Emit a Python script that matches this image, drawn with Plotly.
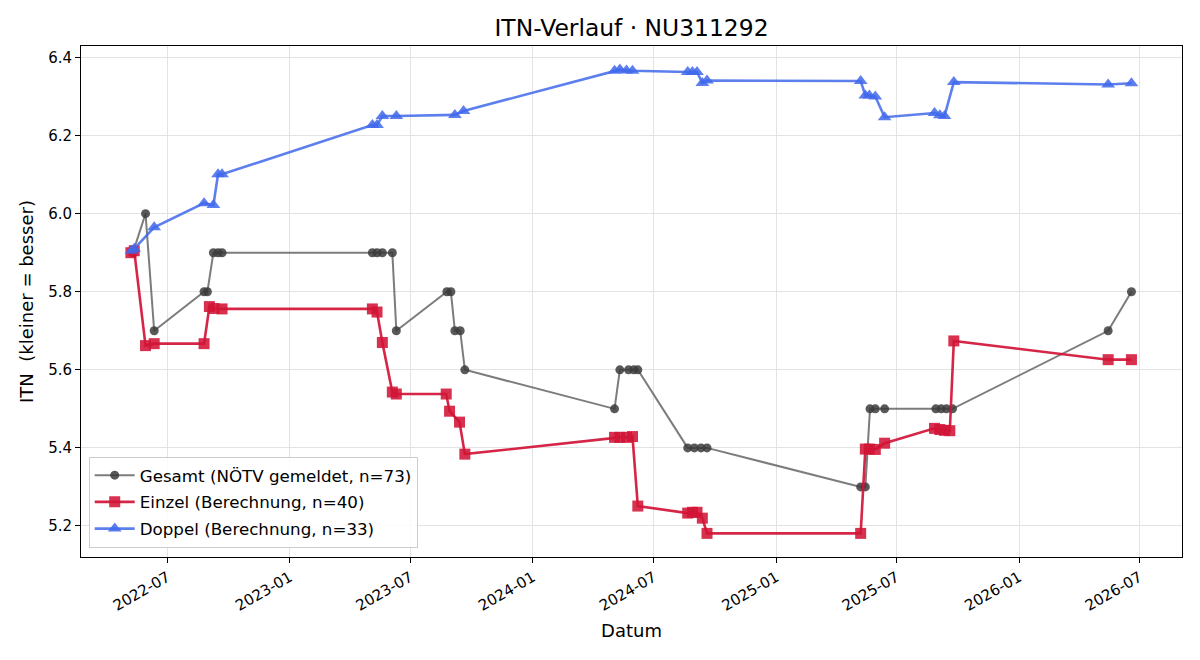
import plotly.graph_objects as go

# ---------------- data ----------------
gesamt_dates = [
    "2022-05-10", "2022-05-29", "2022-06-11", "2022-08-25", "2022-08-30",
    "2022-09-08", "2022-09-15", "2022-09-21", "2023-05-05", "2023-05-12",
    "2023-05-20", "2023-06-04", "2023-06-10", "2023-08-25", "2023-08-31",
    "2023-09-06", "2023-09-14", "2023-09-21", "2024-05-03", "2024-05-11",
    "2024-05-24", "2024-06-01", "2024-06-07", "2024-08-21", "2024-08-31",
    "2024-09-10", "2024-09-19", "2025-05-08", "2025-05-15", "2025-05-22",
    "2025-05-30", "2025-06-13", "2025-08-29", "2025-09-06", "2025-09-14",
    "2025-09-23", "2026-05-15", "2026-06-19",
]
gesamt_vals = [
    5.9, 6.0, 5.7, 5.8, 5.8,
    5.9, 5.9, 5.9, 5.9, 5.9,
    5.9, 5.9, 5.7, 5.8, 5.8,
    5.7, 5.7, 5.6, 5.5, 5.6,
    5.6, 5.6, 5.6, 5.4, 5.4,
    5.4, 5.4, 5.3, 5.3, 5.5,
    5.5, 5.5, 5.5, 5.5, 5.5,
    5.5, 5.7, 5.8,
]

einzel_dates = [
    "2022-05-07", "2022-05-12", "2022-05-29", "2022-06-11", "2022-08-25",
    "2022-09-02", "2022-09-09", "2022-09-21", "2023-05-05", "2023-05-12",
    "2023-05-20", "2023-06-04", "2023-06-10", "2023-08-24", "2023-08-29",
    "2023-09-13", "2023-09-21", "2024-05-03", "2024-05-11", "2024-05-21",
    "2024-05-30", "2024-06-07", "2024-08-21", "2024-08-28", "2024-09-04",
    "2024-09-12", "2024-09-19", "2025-05-08", "2025-05-15", "2025-05-21",
    "2025-05-30", "2025-06-13", "2025-08-27", "2025-09-04", "2025-09-11",
    "2025-09-19", "2025-09-25", "2026-05-15", "2026-06-19",
]
einzel_vals = [
    5.900, 5.905, 5.662, 5.667, 5.667,
    5.762, 5.757, 5.756, 5.756, 5.748,
    5.670, 5.543, 5.538, 5.538, 5.494,
    5.466, 5.384, 5.427, 5.427, 5.427,
    5.429, 5.251, 5.233, 5.235, 5.235,
    5.220, 5.181, 5.181, 5.397, 5.397,
    5.396, 5.412, 5.450, 5.447, 5.445,
    5.444, 5.674, 5.626, 5.626,
]

doppel_dates = [
    "2022-05-08", "2022-05-12", "2022-06-11", "2022-08-25", "2022-09-08",
    "2022-09-15", "2022-09-21", "2023-05-05", "2023-05-12", "2023-05-20",
    "2023-06-10", "2023-09-06", "2023-09-19", "2024-05-03", "2024-05-11",
    "2024-05-21", "2024-05-30", "2024-08-21", "2024-08-28", "2024-09-04",
    "2024-09-12", "2024-09-19", "2025-05-08", "2025-05-15", "2025-05-21",
    "2025-05-30", "2025-06-13", "2025-08-27", "2025-09-04", "2025-09-11",
    "2025-09-25", "2026-05-15", "2026-06-19",
]
doppel_vals = [
    5.905, 5.910, 5.965, 6.027, 6.022,
    6.101, 6.101, 6.227, 6.227, 6.250,
    6.250, 6.253, 6.263, 6.366, 6.369,
    6.367, 6.366, 6.363, 6.363, 6.363,
    6.335, 6.341, 6.340, 6.303, 6.303,
    6.300, 6.247, 6.258, 6.252, 6.250,
    6.337, 6.331, 6.334,
]

title_text = "ITN-Verlauf · NU311292"
x_label = "Datum"
y_label = "ITN\u00a0 (kleiner = besser)"
y_ticks = [5.2, 5.4, 5.6, 5.8, 6.0, 6.2, 6.4]

FONT = "DejaVu Sans"

fig = go.Figure()
fig.add_trace(go.Scatter(
    x=gesamt_dates, y=gesamt_vals, mode="lines+markers",
    name="Gesamt (NÖTV gemeldet, n=73)", legendgroup="g",
    line=dict(color="rgba(80,80,80,0.75)", width=2),
    marker=dict(symbol="circle", size=9, color="rgba(60,60,60,0.85)",
                line=dict(width=0)),
))
fig.add_trace(go.Scatter(
    x=einzel_dates, y=einzel_vals, mode="lines+markers",
    name="Einzel (Berechnung, n=40)", legendgroup="e",
    line=dict(color="rgba(210,20,55,0.92)", width=2.6),
    marker=dict(symbol="square", size=11, color="rgba(210,20,55,0.88)",
                line=dict(width=0)),
))
fig.add_trace(go.Scatter(
    x=doppel_dates, y=doppel_vals, mode="lines+markers",
    name="Doppel (Berechnung, n=33)", legendgroup="d",
    line=dict(color="rgba(65,105,235,0.85)", width=2.6),
    marker=dict(symbol="triangle-up", size=12, color="rgba(65,105,235,0.85)",
                line=dict(width=0)),
))

axis_common = dict(
    showline=True, linecolor="black", linewidth=1, mirror=True,
    ticks="outside", ticklen=5, tickcolor="black", tickwidth=1,
    showgrid=True, gridcolor="#e3e3e3", gridwidth=1,
    zeroline=False,
    tickfont=dict(family=FONT, size=15, color="black"),
)

fig.update_layout(
    width=1200, height=660,
    margin=dict(l=81, r=18, t=46, b=103),
    paper_bgcolor="white", plot_bgcolor="white",
    font=dict(family=FONT, color="black"),
    title=dict(text=title_text, x=0.5, xref="paper", xanchor="center",
               y=1 - 28 / 660, yref="container", yanchor="middle",
               font=dict(family=FONT, size=23.4, color="black")),
    xaxis=dict(
        **axis_common,
        type="date",
        range=["2022-02-21", "2026-09-03"],
        tick0="2022-01-01", dtick="M6", tickformat="%Y-%m",
        tickangle=-30,
        title=dict(text=x_label, font=dict(family=FONT, size=18), standoff=10),
    ),
    yaxis=dict(
        **axis_common,
        range=[5.1205, 6.4295],
        tickvals=y_ticks, ticktext=[f"{v:.1f}" for v in y_ticks],
        title=dict(text=y_label, font=dict(family=FONT, size=18), standoff=9),
    ),
    legend=dict(
        x=0.007, y=0.018, xanchor="left", yanchor="bottom",
        bgcolor="rgba(255,255,255,0.85)", bordercolor="#cccccc", borderwidth=1,
        font=dict(family=FONT, size=16.7, color="black"),
        tracegroupgap=2, itemwidth=40,
    ),
    showlegend=True,
)

fig.write_html("out.html")
